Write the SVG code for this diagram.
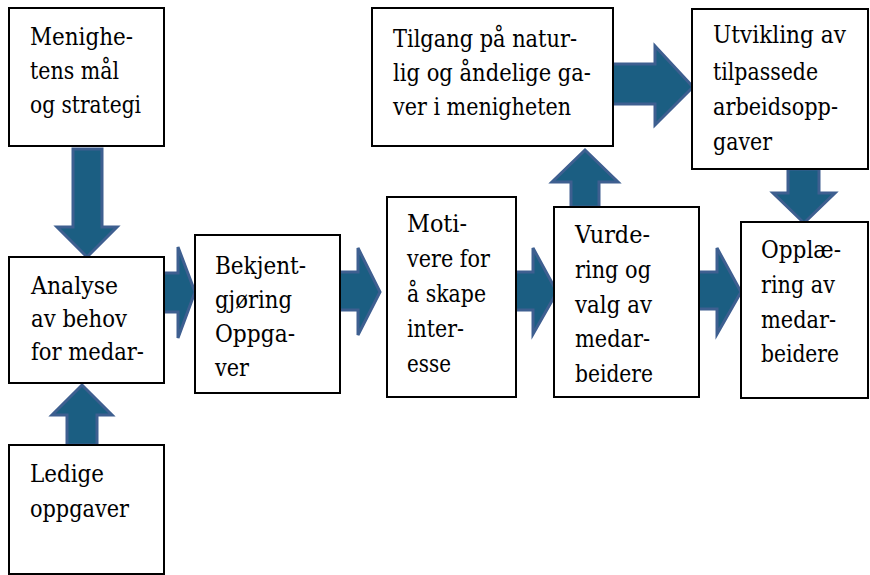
<svg xmlns="http://www.w3.org/2000/svg" width="870" height="575" viewBox="0 0 870 575">
  <style>
    .box { fill: #ffffff; stroke: #000000; stroke-width: 2; }
    .lbl { font-family: "DejaVu Serif", serif; font-size: 24px; fill: #000000; }
    .arrow { fill: #1b5e82; stroke: #3e5f90; stroke-width: 3; stroke-linejoin: miter; }
  </style>
  <rect width="870" height="575" fill="#ffffff"/>

  <!-- block arrows between the steps -->
  <g id="connectors">
    <polygon class="arrow" points="73,149 102,149 102,227 117,227 87,257 57,227 73,227"/>
    <polygon class="arrow" points="67,445 97,445 97,415 112,415 82,385 52,415 67,415"/>
    <polygon class="arrow" points="162,273 178,273 178,247 195,292 178,338 178,312 162,312"/>
    <polygon class="arrow" points="338,272 358,272 358,248 380,292 358,335 358,310 338,310"/>
    <polygon class="arrow" points="515,272 533,272 533,248 557,292 533,334 533,310 515,310"/>
    <polygon class="arrow" points="698,272 717,272 717,248 741,292 717,334 717,309 698,309"/>
    <polygon class="arrow" points="571,207 599,207 599,182 618,182 585,150 552,182 571,182"/>
    <polygon class="arrow" points="611,64 655,64 655,46 693,87 655,125 655,104 611,104"/>
    <polygon class="arrow" points="788,169 819,169 819,193 835,193 804,223 773,193 788,193"/>
  </g>

  <!-- each line is fitted to a Times-like advance width -->
  <g id="node-mal">
    <rect class="box" x="9" y="8" width="155" height="138"/>
    <text class="lbl" x="30" y="45" textLength="103" lengthAdjust="spacingAndGlyphs">Menighe-</text>
    <text class="lbl" x="30" y="79" textLength="89" lengthAdjust="spacingAndGlyphs">tens mål</text>
    <text class="lbl" x="30" y="113" textLength="111" lengthAdjust="spacingAndGlyphs">og strategi</text>
  </g>

  <g id="node-analyse">
    <rect class="box" x="9" y="257" width="155" height="126"/>
    <text class="lbl" x="31" y="294" textLength="87" lengthAdjust="spacingAndGlyphs">Analyse</text>
    <text class="lbl" x="31" y="327" textLength="96" lengthAdjust="spacingAndGlyphs">av behov</text>
    <text class="lbl" x="31" y="360" textLength="113" lengthAdjust="spacingAndGlyphs">for medar-</text>
  </g>

  <g id="node-ledige">
    <rect class="box" x="9" y="445" width="155" height="129"/>
    <text class="lbl" x="30" y="482" textLength="74" lengthAdjust="spacingAndGlyphs">Ledige</text>
    <text class="lbl" x="30" y="517" textLength="99" lengthAdjust="spacingAndGlyphs">oppgaver</text>
  </g>

  <g id="node-bekjent">
    <rect class="box" x="195" y="235" width="145" height="158"/>
    <text class="lbl" x="215" y="274" textLength="91" lengthAdjust="spacingAndGlyphs">Bekjent-</text>
    <text class="lbl" x="215" y="308" textLength="77" lengthAdjust="spacingAndGlyphs">gjøring</text>
    <text class="lbl" x="215" y="342" textLength="80" lengthAdjust="spacingAndGlyphs">Oppga-</text>
    <text class="lbl" x="215" y="376" textLength="34" lengthAdjust="spacingAndGlyphs">ver</text>
  </g>

  <g id="node-motivere">
    <rect class="box" x="387" y="197" width="129" height="200"/>
    <text class="lbl" x="407" y="232" textLength="60" lengthAdjust="spacingAndGlyphs">Moti-</text>
    <text class="lbl" x="407" y="267" textLength="83" lengthAdjust="spacingAndGlyphs">vere for</text>
    <text class="lbl" x="407" y="302" textLength="79" lengthAdjust="spacingAndGlyphs">å skape</text>
    <text class="lbl" x="407" y="337" textLength="57" lengthAdjust="spacingAndGlyphs">inter-</text>
    <text class="lbl" x="407" y="372" textLength="44" lengthAdjust="spacingAndGlyphs">esse</text>
  </g>

  <g id="node-vurdering">
    <rect class="box" x="554" y="207" width="145" height="190"/>
    <text class="lbl" x="575" y="243" textLength="75" lengthAdjust="spacingAndGlyphs">Vurde-</text>
    <text class="lbl" x="575" y="278" textLength="76" lengthAdjust="spacingAndGlyphs">ring og</text>
    <text class="lbl" x="575" y="313" textLength="77" lengthAdjust="spacingAndGlyphs">valg av</text>
    <text class="lbl" x="575" y="347" textLength="75" lengthAdjust="spacingAndGlyphs">medar-</text>
    <text class="lbl" x="575" y="382" textLength="78" lengthAdjust="spacingAndGlyphs">beidere</text>
  </g>

  <g id="node-opplaering">
    <rect class="box" x="741" y="222" width="127" height="176"/>
    <text class="lbl" x="761" y="258" textLength="80" lengthAdjust="spacingAndGlyphs">Opplæ-</text>
    <text class="lbl" x="761" y="293" textLength="74" lengthAdjust="spacingAndGlyphs">ring av</text>
    <text class="lbl" x="761" y="328" textLength="75" lengthAdjust="spacingAndGlyphs">medar-</text>
    <text class="lbl" x="761" y="362" textLength="78" lengthAdjust="spacingAndGlyphs">beidere</text>
  </g>

  <g id="node-tilgang">
    <rect class="box" x="372" y="8" width="241" height="138"/>
    <text class="lbl" x="393" y="47" textLength="184" lengthAdjust="spacingAndGlyphs">Tilgang på natur-</text>
    <text class="lbl" x="393" y="81" textLength="198" lengthAdjust="spacingAndGlyphs">lig og åndelige ga-</text>
    <text class="lbl" x="393" y="115" textLength="178" lengthAdjust="spacingAndGlyphs">ver i menigheten</text>
  </g>

  <g id="node-utvikling">
    <rect class="box" x="692" y="9" width="176" height="160"/>
    <text class="lbl" x="713" y="43" textLength="133" lengthAdjust="spacingAndGlyphs">Utvikling av</text>
    <text class="lbl" x="713" y="80" textLength="105" lengthAdjust="spacingAndGlyphs">tilpassede</text>
    <text class="lbl" x="713" y="115" textLength="125" lengthAdjust="spacingAndGlyphs">arbeidsopp-</text>
    <text class="lbl" x="713" y="150" textLength="59" lengthAdjust="spacingAndGlyphs">gaver</text>
  </g>
</svg>
